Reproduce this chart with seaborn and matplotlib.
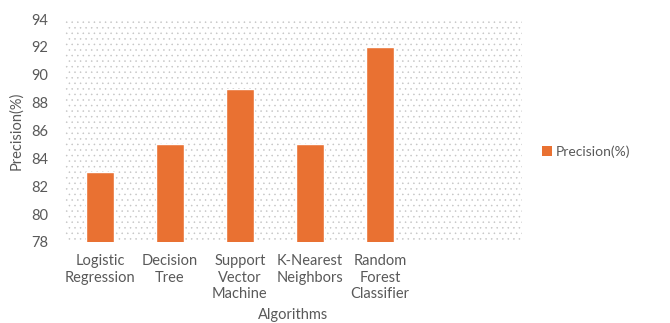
import matplotlib
matplotlib.use("Agg")
import matplotlib.pyplot as plt
import seaborn as sns
import pandas as pd
from matplotlib.patches import Rectangle, Patch

categories = ["Logistic\nRegression", "Decision\nTree", "Support\nVector\nMachine",
              "K-Nearest\nNeighbors", "Random\nForest\nClassifier"]
precision = [83, 85, 89, 85, 92]
yticks = [78, 80, 82, 84, 86, 88, 90, 92, 94]

sns.set_theme(style="white")
plt.rcParams['font.family'] = ['Lato', 'DejaVu Sans']
plt.rcParams['hatch.color'] = '#c4c4c4'
plt.rcParams['hatch.linewidth'] = 0.35

df = pd.DataFrame({"Algorithm": categories, "Precision": precision})

fig = plt.figure(figsize=(6.7, 3.23), dpi=100)
ax = fig.add_axes([0.097, 0.251, 0.682, 0.69])

bg = Rectangle((0, 0), 1, 1, transform=ax.transAxes, facecolor='white',
               edgecolor='#c4c4c4', linewidth=0, hatch='...', zorder=0)
ax.add_patch(bg)

color = '#E97132'
sns.barplot(data=df, x="Algorithm", y="Precision", color=color, width=0.39,
            saturation=1, ax=ax, zorder=2)

ax.set_ylim(78, 94)
ax.set_yticks(yticks)
ax.set_xlim(-0.5, 6.03)
for s in ax.spines.values():
    s.set_visible(False)
ax.tick_params(axis='both', length=0, colors='#595959', labelsize=10.5)
ax.tick_params(axis='x', pad=9)
ax.tick_params(axis='y', pad=12)
ax.set_xlabel("Algorithms", color='#595959', fontsize=10.5, labelpad=5)
ax.set_ylabel("Precision(%)", color='#595959', fontsize=10.5, labelpad=6)

handles = [Patch(facecolor=color, edgecolor='none', label='Precision(%)')]
fig.legend(handles=handles, loc='center left', bbox_to_anchor=(0.79, 0.53),
           frameon=False, fontsize=10, handlelength=0.7, handleheight=0.7,
           handletextpad=0.3, labelcolor='#595959')

fig.savefig("out.png", dpi=100)
